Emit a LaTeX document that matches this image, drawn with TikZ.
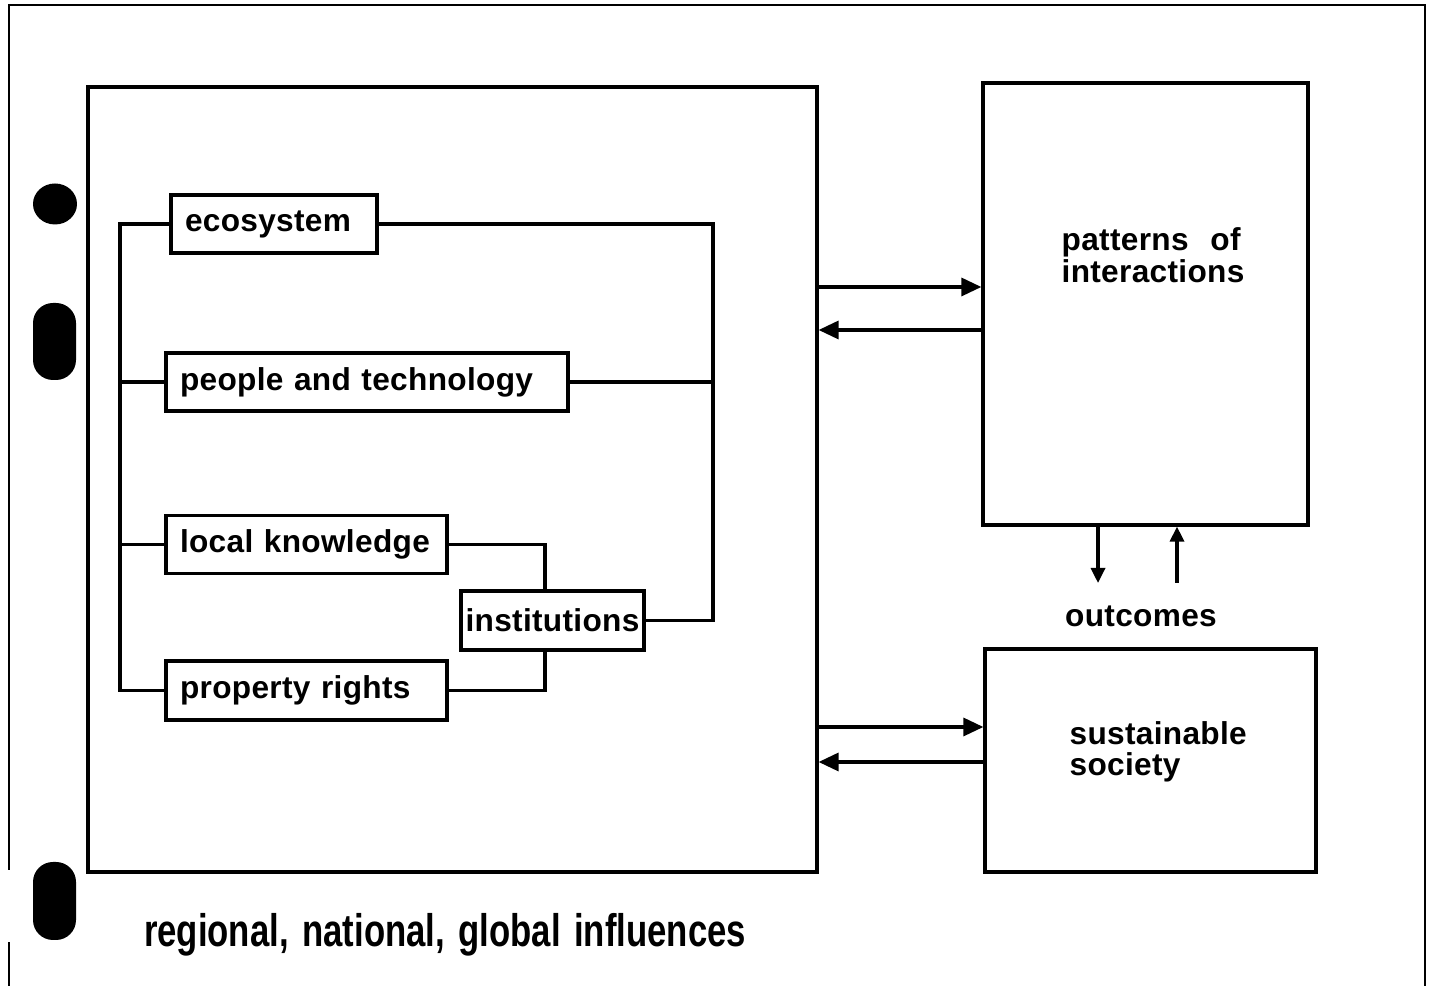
\documentclass[tikz,border=0pt]{standalone}
\usepackage{fontspec}
\setmainfont{Liberation Sans}[WordSpace=2.4,LetterSpace=1]
\newfontfamily\basefont{Liberation Sans}[FakeStretch=0.76,WordSpace=1.4]
\usetikzlibrary{arrows.meta}

\begin{document}
\begin{tikzpicture}[x=0.02cm,y=0.02cm,line width=1.9pt,
  lbl/.style={font=\bfseries\fontsize{18}{18}\selectfont},
  item/.style={draw,lbl,minimum height=1.16cm,inner xsep=0.28cm,text width=#1,align=left},
  arr/.style={-{Triangle[length=0.4cm,width=0.36cm]}},
  oarr/.style={-{Triangle[length=0.3cm,width=0.28cm]}}]
\useasboundingbox (0,0) rectangle (1433,986);

% sheet edge and punch holes
\draw[line width=1.5pt] (9,116) -- (9,981) -- (1425,981) -- (1425,0);
\draw[line width=1.5pt] (9,0) -- (9,44);
\fill (55,782) ellipse (0.44cm and 0.41cm);
\fill[rounded corners=0.4cm] (33,683) rectangle (76,606);
\fill[rounded corners=0.4cm] (33,124) rectangle (76,46);

% left block
\node[draw,minimum width=14.58cm,minimum height=15.7cm,inner sep=0] (frame) at (452.5,506.5) {};
\node[item=3.56cm] (eco) at (274,762) {ecosystem};
\node[item=7.48cm] (people) at (367,604) {people and technology};
\node[item=5.06cm] (local) at (306.5,441.5) {local knowledge};
\node[item=5.06cm,minimum height=1.18cm] (prop) at (306.5,295.5) {property rights};
\node[draw,lbl,minimum width=3.66cm,minimum height=1.18cm,inner sep=0] (inst) at (552.5,365.5) {institutions};

\coordinate (lbus) at (120,0);
\coordinate (rbus) at (713,0);
\coordinate (ij) at (545,0);
\draw (eco.west) -- (eco.west -| lbus) -- (prop.west -| lbus) -- (prop.west);
\draw (people.west) -- (people.west -| lbus);
\draw (local.west) -- (local.west -| lbus);
\draw (eco.east) -- (eco.east -| rbus) -- (inst.east -| rbus) -- (inst.east);
\draw (people.east) -- (people.east -| rbus);
\draw (local.east) -| (ij |- inst.north);
\draw (prop.east) -| (ij |- inst.south);

% right blocks
\node[draw,minimum width=6.5cm,minimum height=8.84cm,inner sep=0] (pat) at (1145.5,682) {};
\node[lbl,anchor=west,align=left,inner sep=0] (patlbl) at (1060,731) {patterns of\\interactions};
\node[draw,minimum width=6.62cm,minimum height=4.46cm,inner sep=0] (sus) at (1150.5,225.5) {};
\node[lbl,anchor=west,align=left,inner sep=0] (suslbl) at (1068,234) {sustainable\\society};
\node[lbl] (outc) at (1141,370) {outcomes};

\coordinate (r1) at (0,699);
\coordinate (l1) at (0,656);
\coordinate (r2) at (0,259);
\coordinate (l2) at (0,224);
\draw[arr] (frame.east |- r1) -- (pat.west |- r1);
\draw[arr] (pat.west |- l1) -- (frame.east |- l1);
\draw[arr] (frame.east |- r2) -- (sus.west |- r2);
\draw[arr] (sus.west |- l2) -- (frame.east |- l2);

\coordinate (dn) at (1098,403);
\coordinate (up) at (1177,403);
\draw[oarr] (pat.south -| dn) -- (dn);
\draw[oarr] (up) -- (pat.south -| up);

\node[font=\basefont\bfseries\fontsize{26}{26}\selectfont] (infl) at (445,51) {regional, national, global influences};
\end{tikzpicture}
\end{document}
